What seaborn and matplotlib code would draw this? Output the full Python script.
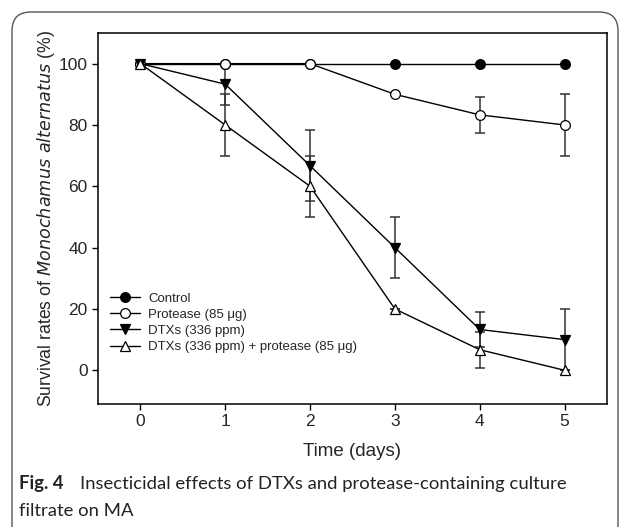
import numpy as np
import pandas as pd
import matplotlib
matplotlib.use("Agg")
import matplotlib.pyplot as plt
import seaborn as sns
from matplotlib.patches import FancyBboxPatch
from matplotlib.lines import Line2D

days = [0, 1, 2, 3, 4, 5]
series_names = ["Control", "Protease (85 μg)", "DTXs (336 ppm)", "DTXs (336 ppm) + protease (85 μg)"]
control = [100, 100, 100, 100, 100, 100]
protease = [100, 100, 100, 90, 83.3, 80]
dtxs = [100, 93.3, 66.7, 40, 13.3, 10]
dtxs_prot = [100, 80, 60, 20, 6.7, 0]
control_err = [0, 0, 0, 0, 0, 0]
protease_err = [0, 0, 0, 0, 5.8, 10]
dtxs_err = [0, 6.7, 11.5, 10, 5.8, 10]
dtxs_prot_err = [0, 10, 10, 0, 5.8, 0]

sns.set_style("ticks")
plt.rcParams["font.family"] = ["Liberation Sans", "DejaVu Sans"]

values = [control, protease, dtxs, dtxs_prot]
errs = [control_err, protease_err, dtxs_err, dtxs_prot_err]
rows = []
for name, vals in zip(series_names, values):
    for d, v in zip(days, vals):
        rows.append({"day": d, "survival": v, "group": name})
df = pd.DataFrame(rows)

fig = plt.figure(figsize=(6.29, 5.27), dpi=100)
ax = fig.add_axes([0.1558, 0.2334, 0.8092, 0.704])

markers = {series_names[0]: "o", series_names[1]: "o", series_names[2]: "v", series_names[3]: "^"}
faces = ["black", "white", "black", "white"]

for vals, e in zip(values, errs):
    ax.errorbar(days, vals, yerr=e, fmt="none", ecolor="#333333", elinewidth=1.1,
                capsize=3.5, capthick=1.1, zorder=2)

sns.lineplot(data=df, x="day", y="survival", hue="group", style="group",
             markers=markers, dashes=False, palette=["black"] * 4,
             hue_order=series_names, style_order=series_names,
             linewidth=1.0, markersize=7, ax=ax, legend=False, zorder=3)

for line, fc in zip(ax.get_lines()[-4:], faces):
    line.set_markerfacecolor(fc)
    line.set_markeredgecolor("black")
    line.set_markeredgewidth(0.9)

handles = [Line2D([], [], color="black", lw=1.0, marker=markers[n], markersize=7,
                  markerfacecolor=fc, markeredgecolor="black", markeredgewidth=0.9)
           for n, fc in zip(series_names, faces)]
ax.legend(handles, series_names, loc="lower left", bbox_to_anchor=(0.0, 0.105),
          frameon=False, fontsize=9.5, handlelength=2.3, handletextpad=0.6,
          labelspacing=0.3, borderaxespad=0.5)

ax.set_xlim(-0.5, 5.5)
ax.set_ylim(-11, 110)
ax.set_xticks(days)
ax.set_yticks([0, 20, 40, 60, 80, 100])
ax.tick_params(axis="both", labelsize=12.5, length=4, width=1, color="black", direction="out")
for s in ax.spines.values():
    s.set_visible(True)
    s.set_color("black")
    s.set_linewidth(1.1)
ax.set_xlabel("Time (days)", fontsize=13.5, labelpad=10)
ax.set_ylabel("Survival rates of $\\it{Monochamus\\ alternatus}$ (%)", fontsize=12.7, labelpad=1)

box = FancyBboxPatch((12 / 629, -0.05), (618 - 12) / 629, 1 - 12 / 527 + 0.05,
                     boxstyle="round,pad=0,rounding_size=0.03",
                     transform=fig.transFigure, fill=False, edgecolor="#555555",
                     linewidth=1.0, mutation_aspect=629 / 527)
fig.add_artist(box)

cap_font = ["Lato", "DejaVu Sans"]
fig.text(19 / 629, 1 - 484 / 527, "Fig. 4", fontsize=13.3, fontweight="bold",
         family=cap_font, va="center", ha="left", color="#222222")
fig.text(80 / 629, 1 - 484 / 527, "Insecticidal effects of DTXs and protease-containing culture",
         fontsize=13.3, family=cap_font, va="center", ha="left", color="#222222")
fig.text(19 / 629, 1 - 511 / 527, "filtrate on MA",
         fontsize=13.3, family=cap_font, va="center", ha="left", color="#222222")

fig.savefig("out.png", dpi=100)
